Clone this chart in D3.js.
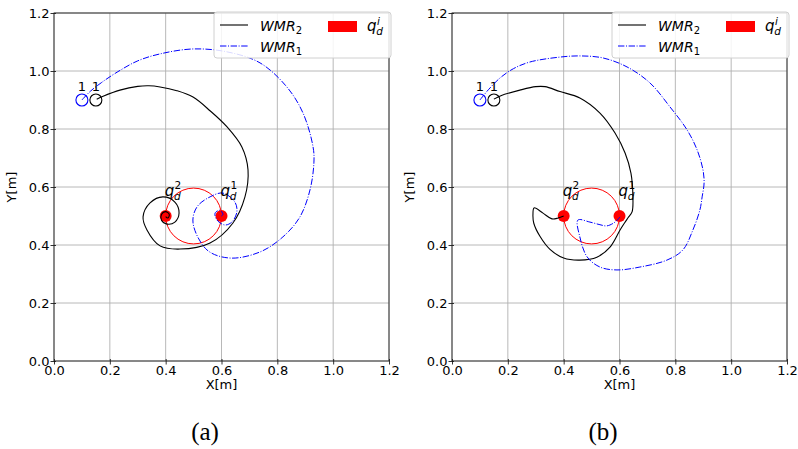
<!DOCTYPE html>
<html>
<head>
<meta charset="utf-8">
<script src="https://cdn.jsdelivr.net/npm/d3@7"></script>
<style>
  body { margin: 0; background: #fff; }
  svg text { font-family: "DejaVu Sans", sans-serif; }
  svg text.caption { font-family: "Liberation Serif", "DejaVu Serif", serif; }
</style>
</head>
<body>
<div id="chart"></div>
<script>
// tick values on both axes
const tickValues = [0, 0.2, 0.4, 0.6, 0.8, 1.0, 1.2];

// targets q_d^1, q_d^2 and the formation circle
const goalPoints = [[0.6, 0.5], [0.4, 0.5]];
const goalIndex = ["1", "2"];
const circleCenter = [0.5, 0.5];
const circleRadius = 0.1;

// start positions of the two robots
const startWMR1 = [0.10, 0.90];
const startWMR2 = [0.15, 0.90];

// (a) trajectories
const wmr2A = [
  [0.153, 0.903], [0.176, 0.913], [0.236, 0.934], [0.30, 0.947], [0.34, 0.949],
  [0.38, 0.945], [0.44, 0.932], [0.498, 0.910], [0.56, 0.862], [0.62, 0.807],
  [0.673, 0.738], [0.695, 0.659], [0.684, 0.566], [0.641, 0.476], [0.559, 0.407],
  [0.451, 0.386], [0.38, 0.397], [0.333, 0.452], [0.319, 0.497], [0.344, 0.545],
  [0.39, 0.566], [0.433, 0.548], [0.448, 0.510], [0.433, 0.479], [0.405, 0.472],
  [0.385, 0.485], [0.385, 0.505], [0.40, 0.515], [0.413, 0.505], [0.408, 0.493],
  [0.40, 0.498]
];
const wmr1A = [
  [0.10, 0.90], [0.13, 0.93], [0.17, 0.96], [0.226, 0.996], [0.30, 1.035],
  [0.38, 1.059], [0.498, 1.076], [0.62, 1.066], [0.738, 1.028], [0.834, 0.945],
  [0.892, 0.855], [0.928, 0.738], [0.931, 0.683], [0.917, 0.590], [0.881, 0.497],
  [0.82, 0.428], [0.738, 0.376], [0.63, 0.355], [0.548, 0.383], [0.498, 0.476],
  [0.512, 0.531], [0.559, 0.566], [0.605, 0.579], [0.648, 0.548], [0.655, 0.514],
  [0.637, 0.479], [0.612, 0.469], [0.584, 0.486], [0.577, 0.510], [0.595, 0.52],
  [0.605, 0.505], [0.60, 0.50]
];

// (b) trajectories
const wmr2B = [
  [0.150, 0.903], [0.175, 0.915], [0.243, 0.934], [0.30, 0.946], [0.333, 0.946],
  [0.387, 0.929], [0.458, 0.907], [0.53, 0.855], [0.584, 0.786], [0.62, 0.717],
  [0.641, 0.648], [0.648, 0.566], [0.645, 0.514], [0.630, 0.493], [0.618, 0.476],
  [0.602, 0.452], [0.566, 0.393], [0.519, 0.358], [0.458, 0.348], [0.40, 0.355],
  [0.351, 0.385], [0.315, 0.430], [0.293, 0.475], [0.290, 0.505], [0.294, 0.528],
  [0.326, 0.510], [0.358, 0.490], [0.380, 0.493], [0.40, 0.50]
];
const wmr1B = [
  [0.10, 0.90], [0.13, 0.935], [0.172, 0.976], [0.22, 1.008], [0.279, 1.031],
  [0.387, 1.048], [0.458, 1.052], [0.541, 1.045], [0.627, 1.014], [0.709, 0.959],
  [0.781, 0.876], [0.842, 0.797], [0.878, 0.728], [0.899, 0.659], [0.903, 0.614],
  [0.896, 0.566], [0.888, 0.521], [0.863, 0.452], [0.827, 0.383], [0.770, 0.348],
  [0.673, 0.324], [0.591, 0.314], [0.530, 0.324], [0.484, 0.359], [0.458, 0.428],
  [0.451, 0.486], [0.494, 0.479], [0.530, 0.470], [0.555, 0.466], [0.584, 0.479],
  [0.602, 0.497]
];

const panels = [
  { left: 54, caption: "(a)", wmr1: wmr1A, wmr2: wmr2A },
  { left: 452, caption: "(b)", wmr1: wmr1B, wmr2: wmr2B }
];

const W = 798, H = 449;
const plotW = 335, plotTop = 13, plotBottom = 361;

const svg = d3.select("#chart").append("svg")
  .attr("width", W).attr("height", H);

function mathQ(g, x, y, sup, size) {
  // q_d^sup, mathtext style
  const t = g.append("g").attr("transform", `translate(${x},${y})`);
  t.append("text").attr("font-size", size).attr("font-style", "italic").text("q");
  t.append("text").attr("x", size * 0.62).attr("y", size * 0.27)
    .attr("font-size", size * 0.7).attr("font-style", "italic").text("d");
  t.append("text").attr("x", size * 0.66).attr("y", -size * 0.42)
    .attr("font-size", size * 0.7).attr("font-style", sup == "i" ? "italic" : "normal").text(sup);
}

panels.forEach(p => {
  const x = d3.scaleLinear().domain([0, 1.2]).range([p.left, p.left + plotW]);
  const y = d3.scaleLinear().domain([0, 1.2]).range([plotBottom, plotTop]);
  const g = svg.append("g");

  // grid
  g.append("g").selectAll("line").data(tickValues).enter().append("line")
    .attr("x1", d => x(d)).attr("x2", d => x(d)).attr("y1", plotTop).attr("y2", plotBottom)
    .attr("stroke", "#b0b0b0").attr("stroke-width", 0.9);
  g.append("g").selectAll("line").data(tickValues).enter().append("line")
    .attr("y1", d => y(d)).attr("y2", d => y(d)).attr("x1", p.left).attr("x2", p.left + plotW)
    .attr("stroke", "#b0b0b0").attr("stroke-width", 0.9);

  // axes
  const xa = g.append("g").attr("transform", `translate(0,${plotBottom})`)
    .call(d3.axisBottom(x).tickValues(tickValues).tickFormat(d3.format(".1f")).tickSize(3.5).tickPadding(1.5));
  const ya = g.append("g").attr("transform", `translate(${p.left},0)`)
    .call(d3.axisLeft(y).tickValues(tickValues).tickFormat(d3.format(".1f")).tickSize(3.5).tickPadding(1));
  [xa, ya].forEach(a => {
    a.select(".domain").remove();
    a.selectAll("text").attr("font-size", 13).attr("fill", "#000");
    a.selectAll("line").attr("stroke", "#000").attr("stroke-width", 0.8);
  });
  xa.selectAll(".tick line").attr("y1", -2);
  ya.selectAll(".tick line").attr("x1", 2);

  g.append("rect").attr("x", p.left).attr("y", plotTop).attr("width", plotW).attr("height", plotBottom - plotTop)
    .attr("fill", "none").attr("stroke", "#222").attr("stroke-width", 0.9);

  g.append("text").attr("x", p.left + plotW / 2).attr("y", 389).attr("text-anchor", "middle")
    .attr("font-size", 13).text("X[m]");
  g.append("text").attr("transform", `translate(${p.left - 38},${(plotTop + plotBottom) / 2}) rotate(-90)`)
    .attr("text-anchor", "middle").attr("font-size", 13).text("Y[m]");

  // formation circle + goals
  g.append("circle").attr("cx", x(circleCenter[0])).attr("cy", y(circleCenter[1]))
    .attr("r", x(circleRadius) - x(0)).attr("fill", "none").attr("stroke", "red").attr("stroke-width", 1);
  g.append("g").selectAll("circle").data(goalPoints).enter().append("circle")
    .attr("cx", d => x(d[0])).attr("cy", d => y(d[1])).attr("r", 6).attr("fill", "red");

  // trajectories
  const line = d3.line().x(d => x(d[0])).y(d => y(d[1])).curve(d3.curveCatmullRom.alpha(0.5));
  g.append("path").attr("d", line(p.wmr2)).attr("fill", "none")
    .attr("stroke", "#000").attr("stroke-width", 1.1);
  g.append("path").attr("d", line(p.wmr1)).attr("fill", "none")
    .attr("stroke", "blue").attr("stroke-width", 1).attr("stroke-dasharray", "6.4,1.6,1,1.6");

  // start markers
  [[startWMR1, "blue"], [startWMR2, "#000"]].forEach(([s, c]) => {
    g.append("circle").attr("cx", x(s[0])).attr("cy", y(s[1])).attr("r", 6)
      .attr("fill", "none").attr("stroke", c).attr("stroke-width", 1.1);
    g.append("text").attr("x", x(s[0])).attr("y", y(s[1]) - 9).attr("text-anchor", "middle")
      .attr("font-size", 13).text("1");
  });

  goalPoints.forEach((d, i) => mathQ(g, x(d[0]) - 1, y(0.57), goalIndex[i], 15));

  // legend
  const L = g.append("g").attr("transform", `translate(${p.left + 160},12)`);
  L.append("rect").attr("width", 177).attr("height", 46).attr("rx", 3)
    .attr("fill", "#fff").attr("fill-opacity", 0.85).attr("stroke", "#d0d0d0").attr("stroke-width", 1);
  L.append("line").attr("x1", 6).attr("x2", 34).attr("y1", 13).attr("y2", 13)
    .attr("stroke", "#000").attr("stroke-width", 1.1);
  L.append("line").attr("x1", 6).attr("x2", 34).attr("y1", 34).attr("y2", 34)
    .attr("stroke", "blue").attr("stroke-width", 1).attr("stroke-dasharray", "6.4,1.6,1,1.6");
  const t1 = L.append("text").attr("x", 46).attr("y", 19).attr("font-size", 14);
  t1.append("tspan").attr("font-style", "italic").text("WMR");
  t1.append("tspan").attr("font-size", 10).attr("dy", 3).text("2");
  const t2 = L.append("text").attr("x", 46).attr("y", 40).attr("font-size", 14);
  t2.append("tspan").attr("font-style", "italic").text("WMR");
  t2.append("tspan").attr("font-size", 10).attr("dy", 3).text("1");
  L.append("rect").attr("x", 114).attr("y", 9).attr("width", 29).attr("height", 11).attr("fill", "red");
  mathQ(L, 153, 19, "i", 15);

  // caption
  svg.append("text").attr("class", "caption").attr("x", p.left + 151).attr("y", 440)
    .attr("text-anchor", "middle").attr("font-size", 25).text(p.caption);
});
</script>
</body>
</html>
